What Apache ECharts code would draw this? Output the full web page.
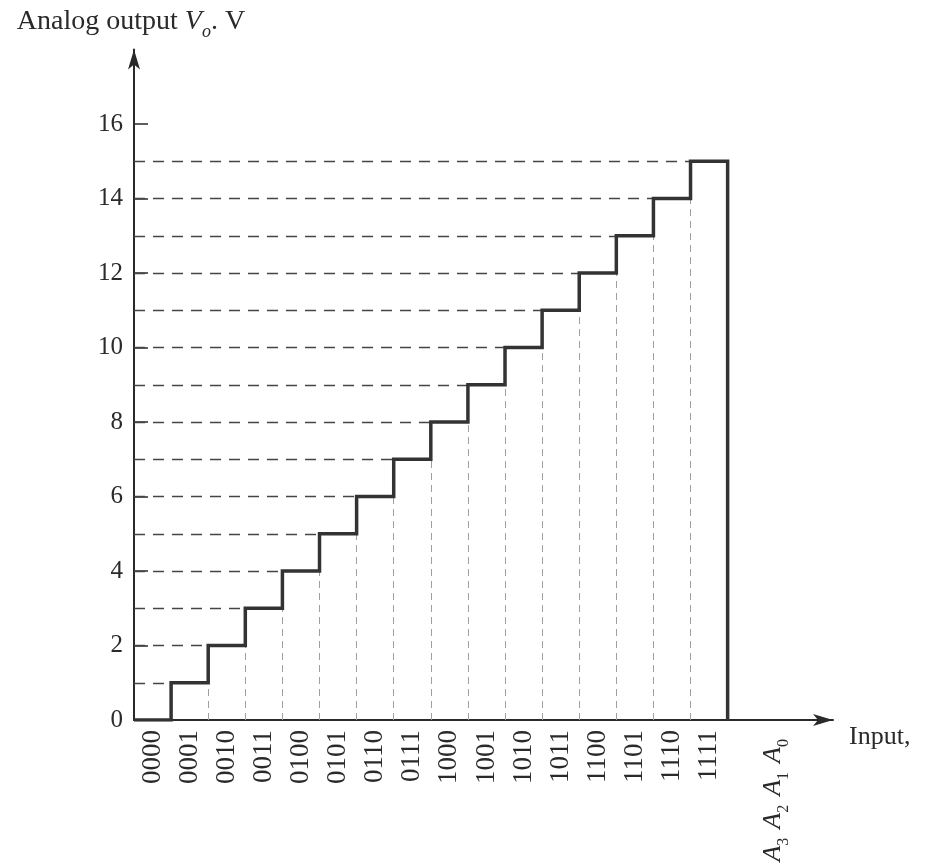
<!DOCTYPE html>
<html>
<head>
<meta charset="utf-8">
<script src="https://cdn.jsdelivr.net/npm/echarts@6/dist/echarts.min.js"></script>
<style>html,body{margin:0;padding:0;background:#fff}#c{width:928px;height:868px}</style>
</head>
<body>
<div id="c"></div>
<script>
// Input codes A3A2A1A0
var codes = ['0000','0001','0010','0011','0100','0101','0110','0111','1000','1001','1010','1011','1100','1101','1110','1111'];
// Analog output (V) for each code
var outputs = [0,1,2,3,4,5,6,7,8,9,10,11,12,13,14,15];
// Y tick labels
var yTicks = [0,2,4,6,8,10,12,14,16];

var FONT = '"Liberation Serif", "DejaVu Serif", serif';
var INK = '#2a2a2a';

// staircase points
var stair = [];
for (var k = 0; k < outputs.length; k++) {
  stair.push([k, outputs[k]]);
  stair.push([k + 1, outputs[k]]);
}
stair.push([outputs.length, 0]);

// horizontal dashed guides: level from axis to where that step begins
var hLines = [];
for (var k = 1; k < outputs.length; k++) {
  hLines.push([{coord: [0, outputs[k]]}, {coord: [k, outputs[k]]}]);
}
// vertical dashed guides at code boundaries from baseline to bottom of riser
var vLines = [];
for (var k = 2; k < outputs.length; k++) {
  vLines.push([{coord: [k, 0]}, {coord: [k, outputs[k - 1]]}]);
}

var xLabelVals = codes.map(function (c, i) { return i + 0.5; });
xLabelVals.push(17.22);

var chart = echarts.init(document.getElementById('c'), null, {renderer: 'canvas'});
chart.setOption({
  backgroundColor: '#fff',
  animation: false,
  grid: {left: 134, right: 95, top: 49.5, bottom: 148, containLabel: false},
  xAxis: {
    type: 'value', min: 0, max: 18.84,
    splitLine: {show: false},
    axisLine: {show: true, onZero: false, symbol: ['none', 'arrow'], symbolSize: [9, 20], lineStyle: {color: INK, width: 2}},
    axisTick: {show: false},
    name: 'Input,',
    nameLocation: 'end', nameGap: 16,
    nameTextStyle: {fontFamily: FONT, fontSize: 26, color: INK, verticalAlign: 'top', padding: [4, 0, 0, 0]},
    axisLabel: {
      customValues: xLabelVals,
      rotate: 90, margin: 10,
      fontFamily: FONT, fontSize: 27, color: INK,
      formatter: function (v) {
        if (v > 16) return '{a|A}{s|3}{a|A}{s|2}{a|A}{s|1}{a|A}{s|0}';
        return codes[Math.floor(v)];
      },
      rich: {
        a: {fontFamily: FONT, fontStyle: 'italic', fontSize: 26, color: INK},
        s: {fontFamily: FONT, fontSize: 16, color: INK, verticalAlign: 'bottom', padding: [0, 9, -6, 0]}
      }
    }
  },
  yAxis: {
    type: 'value', min: 0, max: 18,
    splitLine: {show: false},
    axisLine: {show: true, symbol: ['none', 'arrow'], symbolSize: [9, 20], lineStyle: {color: INK, width: 2}},
    axisTick: {show: true, inside: true, length: 14, customValues: [2,4,6,8,10,12,14,16], lineStyle: {color: INK, width: 1.5}},
    axisLabel: {customValues: yTicks, margin: 11, fontFamily: FONT, fontSize: 25, color: INK},
    name: '{t|Analog output }{i|V}{sub|o}{t|. V}',
    nameLocation: 'end', nameGap: 14,
    nameTextStyle: {
      align: 'center',
      padding: [0, 6, 0, 0],
      rich: {
        t: {fontFamily: FONT, fontSize: 28, color: INK},
        i: {fontFamily: FONT, fontSize: 28, fontStyle: 'italic', color: INK},
        sub: {fontFamily: FONT, fontSize: 18, fontStyle: 'italic', color: INK, verticalAlign: 'bottom', padding: [0, 0, -6, 0]}
      }
    }
  },
  series: [
    {
      type: 'line', data: stair, showSymbol: false, symbol: 'none',
      lineStyle: {color: '#333', width: 3.5, join: 'miter'},
      z: 5,
      markLine: {
        silent: true, symbol: ['none', 'none'], label: {show: false},
        lineStyle: {color: '#444', width: 1.4, type: [11, 8]},
        data: hLines, animation: false
      }
    },
    {
      type: 'line', data: [], showSymbol: false,
      markLine: {
        silent: true, symbol: ['none', 'none'], label: {show: false},
        lineStyle: {color: '#a0a0a0', width: 1, type: [7, 5]},
        data: vLines, animation: false
      }
    }
  ]
});
</script>
</body>
</html>
